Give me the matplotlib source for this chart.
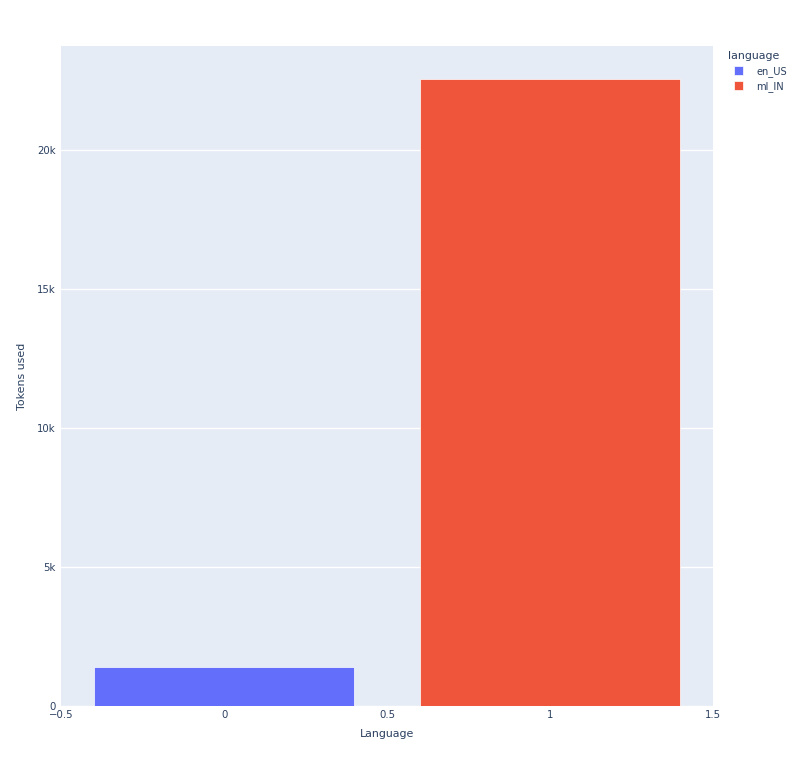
import matplotlib.pyplot as plt
from matplotlib.ticker import FuncFormatter

# Data
languages = ['en_US', 'ml_IN']
positions = [0, 1]
tokens = [1410, 22540]
colors = ['#636EFA', '#EF553B']

text_color = '#2a3f5f'

fig = plt.figure(figsize=[8, 7.68], dpi=100)
ax = fig.add_axes([0.0766, 0.0807, 0.8144, 0.8593])
ax.set_facecolor('#E5ECF6')

# Bars, one trace per language
bars = []
for pos, val, col, name in zip(positions, tokens, colors, languages):
    b = ax.bar(pos, val, width=0.8, color=col, edgecolor='white', linewidth=0.5, label=name, zorder=3)
    bars.append(b)

ax.set_xlim(-0.5, 1.5)
ax.set_ylim(0, 23740)
ax.set_xticks([-0.5, 0, 0.5, 1, 1.5])
ax.set_xticklabels(['\u22120.5', '0', '0.5', '1', '1.5'])
ax.set_yticks([0, 5000, 10000, 15000, 20000])
ax.yaxis.set_major_formatter(FuncFormatter(lambda v, p: '0' if v == 0 else f'{int(v / 1000)}k'))

ax.grid(axis='y', color='white', linewidth=1, zorder=0)
ax.set_axisbelow(True)
for s in ax.spines.values():
    s.set_visible(False)
ax.tick_params(axis='y', length=0, labelsize=7.3, colors=text_color, pad=4)
ax.tick_params(axis='x', length=0, labelsize=7.3, colors=text_color, pad=3)

ax.set_xlabel('Language', fontsize=7.9, color=text_color, labelpad=6)
ax.set_ylabel('Tokens used', fontsize=7.9, color=text_color, labelpad=7)

# Legend
leg = fig.legend(handles=[b[0] for b in bars], labels=languages, title='language',
                 loc='upper left', bbox_to_anchor=(0.91, 0.933), frameon=False,
                 fontsize=7.1, title_fontsize=7.9, handlelength=1.0, handleheight=1.0,
                 handletextpad=1.9, labelspacing=0.45, borderaxespad=0, borderpad=0)
leg._legend_box.align = 'left'
for h in leg.legend_handles:
    h.set_x(h.get_x() + 4)
plt.setp(leg.get_texts(), color=text_color)
leg.get_title().set_color(text_color)

plt.savefig('out.png', dpi=100)
